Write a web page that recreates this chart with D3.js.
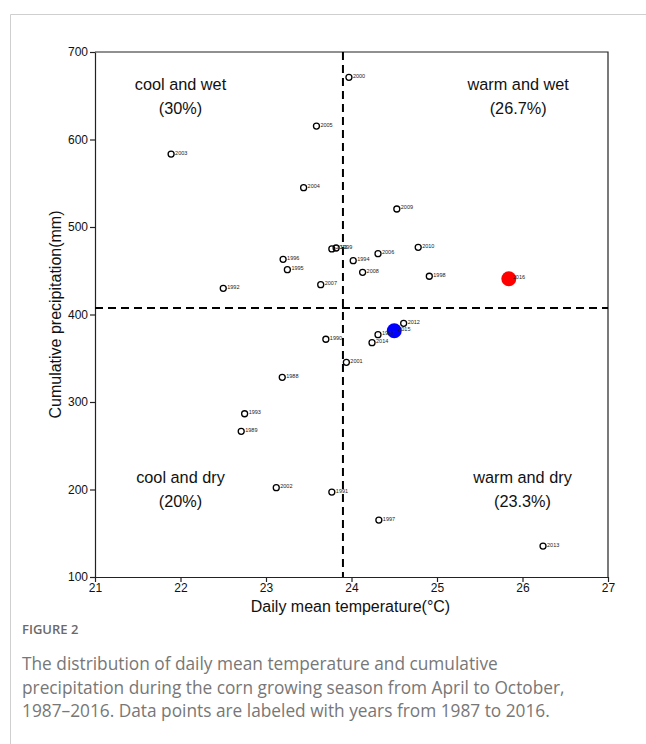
<!DOCTYPE html>
<html>
<head>
<meta charset="utf-8">
<script src="https://cdn.jsdelivr.net/npm/d3@7"></script>
<style>
  body { margin: 0; background: #fff; }
</style>
</head>
<body>
<div class="chart"></div>
<script>
var years = [1987, 1988, 1989, 1990, 1991, 1992, 1993, 1994, 1995, 1996,
             1997, 1998, 1999, 2000, 2001, 2002, 2003, 2004, 2005, 2006,
             2007, 2008, 2009, 2010, 2011, 2012, 2013, 2014, 2015, 2016];
var temps = [24.31, 23.19, 22.71, 23.70, 23.77, 22.50, 22.75, 24.02, 23.25, 23.20,
             24.32, 24.91, 23.82, 23.97, 23.94, 23.12, 21.89, 23.44, 23.59, 24.31,
             23.64, 24.13, 24.53, 24.78, 23.77, 24.61, 26.24, 24.24, 24.50, 25.84];
var precips = [376.9, 328.2, 266.5, 371.7, 197.1, 429.9, 286.6, 461.5, 451.2, 463.1,
               165.1, 443.7, 476.0, 671.1, 345.4, 202.1, 583.4, 544.9, 615.4, 469.5,
               434.1, 448.2, 520.6, 476.8, 474.9, 389.9, 135.4, 367.8, 381.5, 440.9];
var highlightYears = [2015, 2016];
var highlightColors = ['#0000ff', '#ff0000'];
var meanTemp = 23.9;
var meanPrecip = 407.4;
var xTicks = [21, 22, 23, 24, 25, 26, 27];
var yTicks = [100, 200, 300, 400, 500, 600, 700];
var quadLabels = [
  {name: 'cool and wet', pct: '(30%)', x: 22.0, y: 657},
  {name: 'warm and wet', pct: '(26.7%)', x: 25.95, y: 657},
  {name: 'cool and dry', pct: '(20%)', x: 22.0, y: 207},
  {name: 'warm and dry', pct: '(23.3%)', x: 26.0, y: 207}
];
var captionTitle = 'FIGURE 2';
var captionLines = [
  'The distribution of daily mean temperature and cumulative',
  'precipitation during the corn growing season from April to October,',
  '1987\u20132016. Data points are labeled with years from 1987 to 2016.'
];

var width = 646;
var height = 744;
var mLeft = 95, mRight = 608, mTop = 52, mBottom = 577;
var font = '"Liberation Sans", Arial, sans-serif';

var svg = d3.select('.chart')
  .append('svg')
  .attr('width', width)
  .attr('height', height);

// card border
svg.append('path')
  .attr('d', 'M10.5,' + height + ' L10.5,14.5 L' + width + ',14.5')
  .attr('fill', 'none')
  .attr('stroke', '#cfcfcf')
  .attr('stroke-width', 1);

/// Scales
var x = d3.scaleLinear().domain([21, 27]).range([mLeft, mRight]);
var y = d3.scaleLinear().domain([100, 700]).range([mBottom, mTop]);

/// Axes
var xAxis = svg.append('g')
  .attr('transform', 'translate(0,' + mBottom + ')')
  .call(d3.axisBottom(x).tickValues(xTicks).tickFormat(d3.format('d'))
    .tickSize(5).tickPadding(1).tickSizeOuter(0));

var yAxis = svg.append('g')
  .attr('transform', 'translate(' + mLeft + ',0)')
  .call(d3.axisLeft(y).tickValues(yTicks).tickFormat(d3.format('d'))
    .tickSize(5).tickPadding(2).tickSizeOuter(0));

[xAxis, yAxis].forEach(function(a) {
  a.select('.domain').attr('stroke', '#222').attr('stroke-width', 1.2);
  a.selectAll('.tick line').attr('stroke', '#222').attr('stroke-width', 1.2);
  a.selectAll('.tick text')
    .attr('font-family', font)
    .attr('font-size', '12px')
    .attr('fill', '#111');
});

// frame top and right
svg.append('path')
  .attr('d', 'M' + mLeft + ',' + mTop + ' L' + mRight + ',' + mTop + ' L' + mRight + ',' + mBottom)
  .attr('fill', 'none')
  .attr('stroke', '#222')
  .attr('stroke-width', 1.2);

/// Mean lines
svg.append('line')
  .attr('x1', x(meanTemp)).attr('x2', x(meanTemp))
  .attr('y1', mTop).attr('y2', mBottom)
  .attr('stroke', '#000')
  .attr('stroke-width', 2)
  .attr('stroke-dasharray', '8,5');

svg.append('line')
  .attr('x1', mLeft).attr('x2', mRight)
  .attr('y1', y(meanPrecip)).attr('y2', y(meanPrecip))
  .attr('stroke', '#000')
  .attr('stroke-width', 2)
  .attr('stroke-dasharray', '8,5');

/// Points
var data = years.map(function(yr, i) {
  return {year: yr, t: temps[i], p: precips[i]};
});

svg.selectAll('.pt')
  .data(data.filter(function(d) { return highlightYears.indexOf(d.year) < 0; }))
  .enter().append('circle')
  .attr('class', 'pt')
  .attr('cx', function(d) { return x(d.t); })
  .attr('cy', function(d) { return y(d.p); })
  .attr('r', 3)
  .attr('fill', 'none')
  .attr('stroke', '#000')
  .attr('stroke-width', 1.3);

svg.selectAll('.hl')
  .data(data.filter(function(d) { return highlightYears.indexOf(d.year) >= 0; }))
  .enter().append('circle')
  .attr('class', 'hl')
  .attr('cx', function(d) { return x(d.t); })
  .attr('cy', function(d) { return y(d.p); })
  .attr('r', 7.5)
  .attr('fill', function(d) { return highlightColors[highlightYears.indexOf(d.year)]; });

svg.selectAll('.yr')
  .data(data)
  .enter().append('text')
  .attr('class', 'yr')
  .attr('x', function(d) { return x(d.t) + 4; })
  .attr('y', function(d) { return y(d.p) + 0.5; })
  .attr('font-family', font)
  .attr('font-size', '5.5px')
  .attr('fill', '#222')
  .text(function(d) { return d.year; });

/// Quadrant labels
quadLabels.forEach(function(q) {
  svg.append('text')
    .attr('x', x(q.x)).attr('y', y(q.y))
    .attr('text-anchor', 'middle')
    .attr('font-family', font)
    .attr('font-size', '16.3px')
    .attr('fill', '#111')
    .text(q.name);
  svg.append('text')
    .attr('x', x(q.x)).attr('y', y(q.y) + 24)
    .attr('text-anchor', 'middle')
    .attr('font-family', font)
    .attr('font-size', '16.3px')
    .attr('fill', '#111')
    .text(q.pct);
});

/// Axis titles
svg.append('text')
  .attr('x', (mLeft + mRight) / 2 - 1)
  .attr('y', 612)
  .attr('text-anchor', 'middle')
  .attr('font-family', font)
  .attr('font-size', '16px')
  .attr('fill', '#111')
  .text('Daily mean temperature(\u00b0C)');

svg.append('text')
  .attr('transform', 'translate(61,' + ((mTop + mBottom) / 2) + ') rotate(-90)')
  .attr('text-anchor', 'middle')
  .attr('font-family', font)
  .attr('font-size', '16px')
  .attr('fill', '#111')
  .text('Cumulative precipitation(mm)');

/// Caption
svg.append('text')
  .attr('x', 22).attr('y', 634)
  .attr('font-family', '"Open Sans", sans-serif')
  .attr('font-size', '13px')
  .attr('font-weight', 600)
  .attr('fill', '#6a6a6a')
  .text(captionTitle);

svg.selectAll('.cap')
  .data(captionLines)
  .enter().append('text')
  .attr('class', 'cap')
  .attr('x', 22)
  .attr('y', function(d, i) { return 670 + i * 23.5; })
  .attr('font-family', '"Open Sans", sans-serif')
  .attr('font-size', '17.3px')
  .attr('fill', '#777')
  .text(function(d) { return d; });
</script>
</body>
</html>
